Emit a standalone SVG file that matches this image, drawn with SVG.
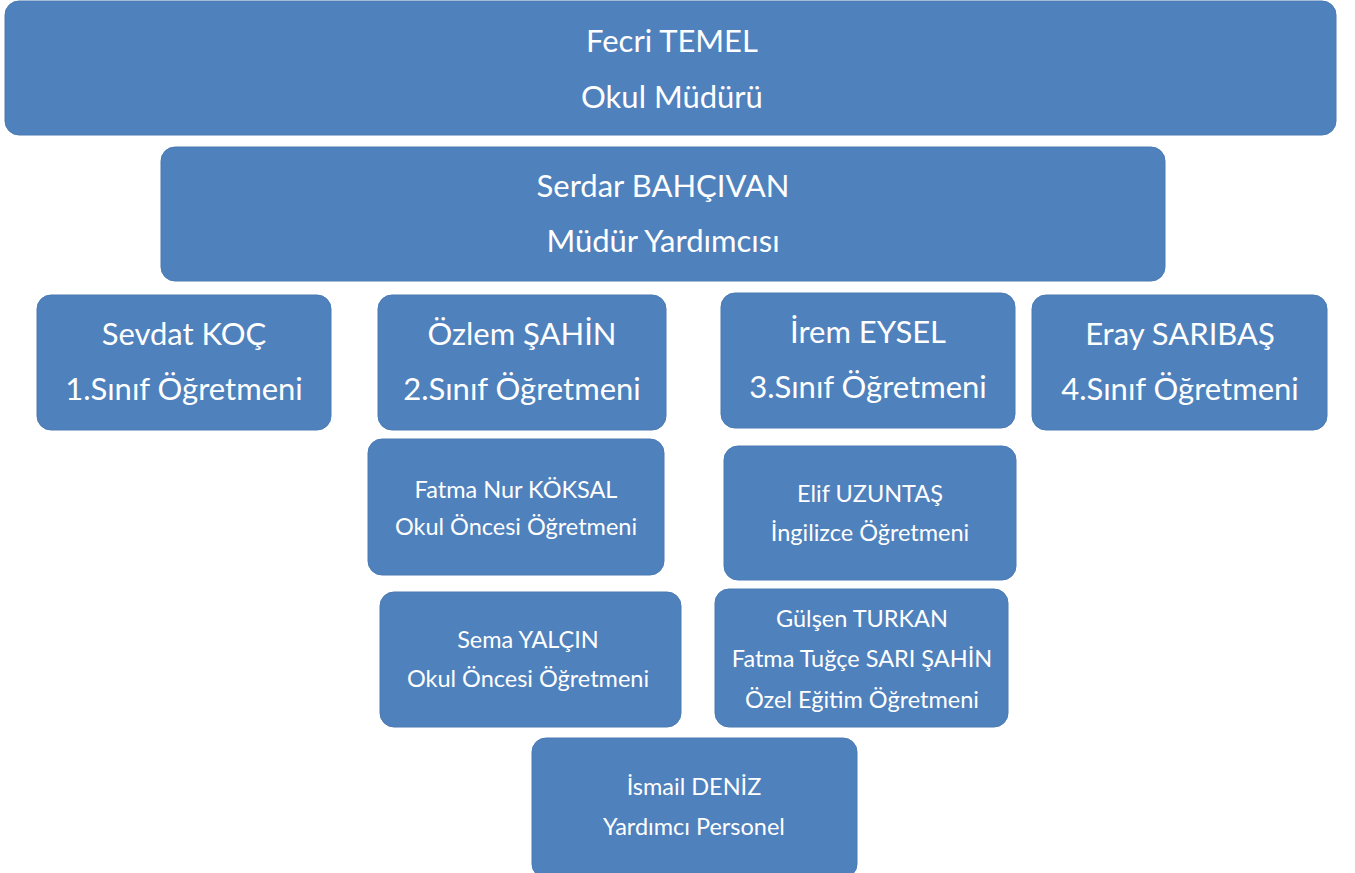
<svg xmlns="http://www.w3.org/2000/svg" width="1355" height="873" viewBox="0 0 1355 873">
<style>
.box{fill:#4F81BD;stroke:#4A7AB3;stroke-width:1}
.t{fill:#FFFFFF;font-family:Lato,"Open Sans","Noto Sans",sans-serif;text-anchor:middle}
.L{font-size:31px}
.S{font-size:23.5px}
</style>
<rect width="1355" height="873" fill="#FFFFFF"/>
<g id="connectors"></g>
<g id="n-mudur"><rect class="box" x="5" y="1" width="1331" height="134" rx="14"/>
<text class="t L" x="672" y="52">Fecri TEMEL</text><text class="t L" x="672" y="108">Okul Müdürü</text></g>
<g id="n-yardimci"><rect class="box" x="161" y="147" width="1004" height="134" rx="14"/>
<text class="t L" x="663" y="197">Serdar BAHÇIVAN</text><text class="t L" x="663" y="252">Müdür Yardımcısı</text></g>
<g id="n-sevdat"><rect class="box" x="37" y="295" width="294" height="135" rx="14"/>
<text class="t L" x="184" y="345">Sevdat KOÇ</text><text class="t L" x="184" y="400">1.Sınıf Öğretmeni</text></g>
<g id="n-ozlem"><rect class="box" x="378" y="295" width="288" height="135" rx="14"/>
<text class="t L" x="522" y="345">Özlem ŞAHİN</text><text class="t L" x="522" y="400">2.Sınıf Öğretmeni</text></g>
<g id="n-irem"><rect class="box" x="721" y="293" width="294" height="135" rx="14"/>
<text class="t L" x="868" y="343">İrem EYSEL</text><text class="t L" x="868" y="398">3.Sınıf Öğretmeni</text></g>
<g id="n-eray"><rect class="box" x="1032" y="295" width="295" height="135" rx="14"/>
<text class="t L" x="1180" y="345">Eray SARIBAŞ</text><text class="t L" x="1180" y="400">4.Sınıf Öğretmeni</text></g>
<g id="n-fatmanur"><rect class="box" x="368" y="439" width="296" height="136" rx="14"/>
<text class="t S" x="516" y="498">Fatma Nur KÖKSAL</text><text class="t S" x="516" y="535">Okul Öncesi Öğretmeni</text></g>
<g id="n-elif"><rect class="box" x="724" y="446" width="292" height="134" rx="14"/>
<text class="t S" x="870" y="502">Elif UZUNTAŞ</text><text class="t S" x="870" y="541">İngilizce Öğretmeni</text></g>
<g id="n-sema"><rect class="box" x="380" y="592" width="301" height="135" rx="14"/>
<text class="t S" x="528" y="648">Sema YALÇIN</text><text class="t S" x="528" y="687">Okul Öncesi Öğretmeni</text></g>
<g id="n-gulsen"><rect class="box" x="715" y="589" width="293" height="138" rx="14"/>
<text class="t S" x="862" y="627">Gülşen TURKAN</text><text class="t S" x="862" y="667">Fatma Tuğçe SARI ŞAHİN</text><text class="t S" x="862" y="708">Özel Eğitim Öğretmeni</text></g>
<g id="n-ismail"><rect class="box" x="532" y="738" width="325" height="140" rx="14"/>
<text class="t S" x="694" y="795">İsmail DENİZ</text><text class="t S" x="694" y="835">Yardımcı Personel</text></g>
</svg>
